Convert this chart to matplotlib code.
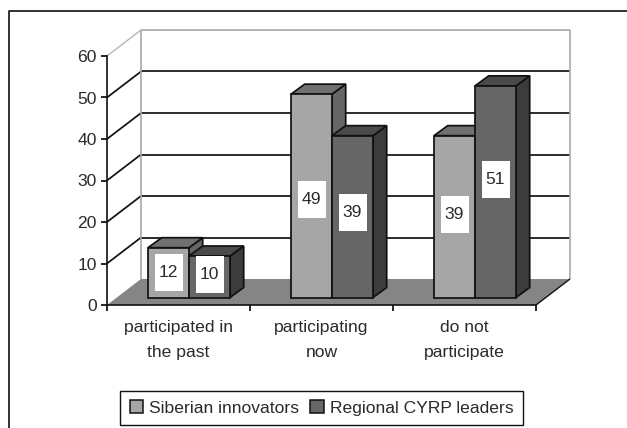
import matplotlib
matplotlib.use('Agg')
import matplotlib.pyplot as plt
from matplotlib.lines import Line2D
from matplotlib.patches import Patch, Polygon, Rectangle

categories = ['participated in\nthe past', 'participating\nnow', 'do not\nparticipate']
series_names = ['Siberian innovators', 'Regional CYRP leaders']
siberian = [12, 49, 39]
regional = [10, 39, 51]
yticks = [0, 10, 20, 30, 40, 50, 60]
# pixels to move each value label up from the middle of its bar
label_shift = [[0, -4, 2], [2, 4, 12]]

plt.rcParams['font.family'] = ['Liberation Sans', 'DejaVu Sans']
W, H = 627, 428
FS = 12.6
TXT = '#2a2a2a'
fig = plt.figure(figsize=(W / 100, H / 100), dpi=100)

# axes box = front plane of the chart
ax = fig.add_axes([107 / W, 1 - 305 / H, 429 / W, 249 / H])
ax.set_xlim(0, 3)
ax.set_ylim(0, 60)
ax.patch.set_visible(False)
for s in ['top', 'right']:
    ax.spines[s].set_visible(False)
for s in ['left', 'bottom']:
    ax.spines[s].set_linewidth(1.2)
    ax.spines[s].set_color('#111111')

# depth of the floor and of the bars, in data units
PX_X = 143
PX_Y = 4.15
DX = 34 / PX_X
DY = 26 / PX_Y
BDX = 13.7 / PX_X
BDY = 10 / PX_Y
BASE = 7.5 / PX_Y
BAR_W = 41 / PX_X
START = 41 / PX_X
BOX_W = 28 / PX_X
BOX_H = 37 / PX_Y


def poly(pts, fc, ec='#111111', lw=1.25, z=2):
    ax.add_patch(Polygon(pts, closed=True, fc=fc, ec=ec, lw=lw, zorder=z, clip_on=False, joinstyle='miter'))


def line(xs, ys, c='#111111', lw=1.25, z=1):
    ax.plot(xs, ys, color=c, lw=lw, zorder=z, clip_on=False, solid_capstyle='butt')


# floor
poly([(0, 0), (3, 0), (3 + DX, DY), (DX, DY)], '#858585', ec='none', lw=0, z=1)
line([3, 3 + DX], [0, DY], lw=1.0, z=1.5)

# walls and grid
for v in yticks[1:-1]:
    line([0, DX], [v, v + DY])
    line([DX, 3 + DX], [v + DY, v + DY])
line([0, DX], [60, 60 + DY], c='#b5b5b5', lw=1.0)
line([DX, 3 + DX], [60 + DY, 60 + DY], c='#a8a8a8', lw=1.2)
line([DX, DX], [DY, 60 + DY], c='#a8a8a8', lw=1.2)
line([3 + DX, 3 + DX], [DY, 60 + DY], c='#a8a8a8', lw=1.2)

# bars
styles = [('#a6a6a6', '#707070', '#666666'), ('#666666', '#4a4a4a', '#3c3c3c')]
for j, vals in enumerate([siberian, regional]):
    front, top, side = styles[j]
    for i, v in enumerate(vals):
        x0 = i + START + j * BAR_W
        x1 = x0 + BAR_W
        y0 = BASE
        y1 = BASE + v
        z = 3 + i + j * 0.1
        poly([(x1, y0), (x1 + BDX, y0 + BDY), (x1 + BDX, y1 + BDY), (x1, y1)], side, z=z)
        poly([(x0, y1), (x1, y1), (x1 + BDX, y1 + BDY), (x0 + BDX, y1 + BDY)], top, z=z)
        poly([(x0, y0), (x1, y0), (x1, y1), (x0, y1)], front, z=z)
        xc = (x0 + x1) / 2
        yc = (y0 + y1) / 2 + label_shift[j][i] / PX_Y
        ax.add_patch(Rectangle((xc - BOX_W / 2, yc - BOX_H / 2), BOX_W, BOX_H, fc='white', ec='none',
                               zorder=z + 0.04, clip_on=False))
        ax.text(xc, yc, str(v), ha='center', va='center', fontsize=FS, color=TXT, zorder=z + 0.05, clip_on=False)

# ticks
ax.set_yticks(yticks)
ax.tick_params(axis='y', length=4, width=1.2, pad=3.5, labelsize=FS, labelcolor=TXT)
ax.set_xticks([0, 1, 2, 3])
ax.set_xticklabels([])
ax.tick_params(axis='x', which='major', length=4, width=1.2)
ax.set_xticks([0.5, 1.5, 2.5], minor=True)
ax.set_xticklabels(categories, minor=True, fontsize=FS, color=TXT, linespacing=1.8)
ax.tick_params(axis='x', which='minor', length=0, pad=11)

# chart area border, only top and left show in the picture
fig.add_artist(Line2D([9 / W, 9 / W, 1], [0, 1 - 11 / H, 1 - 11 / H], color='#222222', lw=1.3))

handles = [Patch(fc=styles[0][0], ec='#111111', lw=1.1), Patch(fc=styles[1][0], ec='#111111', lw=1.1)]
fig.legend(handles, series_names, loc='center', bbox_to_anchor=(321.5 / W, 1 - 408 / H), ncol=2,
           fontsize=FS, frameon=True, fancybox=False, framealpha=1, edgecolor='#111111',
           handlelength=0.75, handleheight=0.75, handletextpad=0.35, columnspacing=0.65,
           borderpad=0.55, labelcolor=TXT)

fig.savefig('out.png', dpi=100)
